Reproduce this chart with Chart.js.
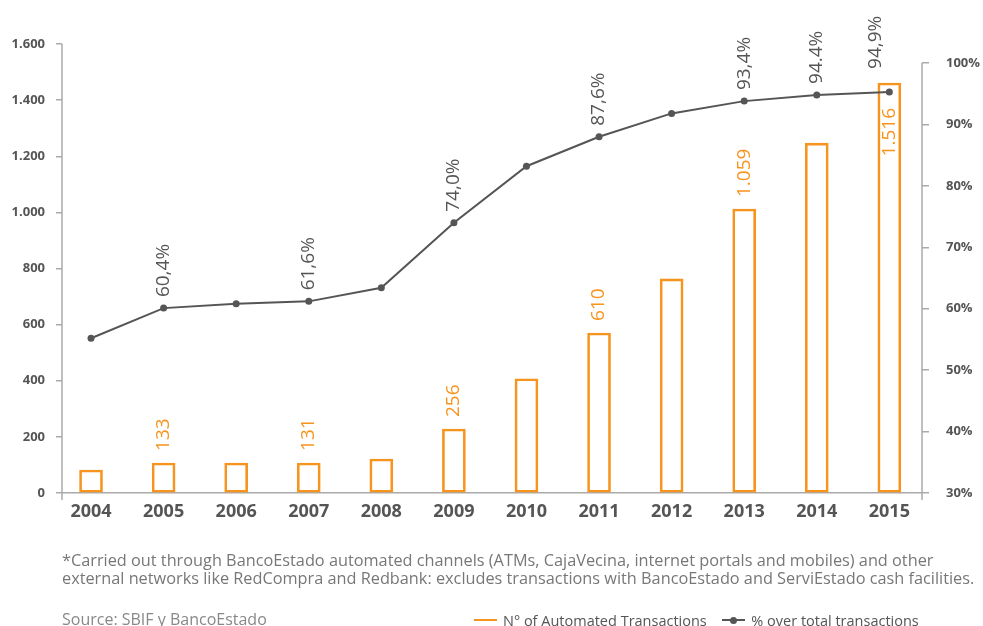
<!DOCTYPE html>
<html>
<head>
<meta charset="utf-8">
<script src="https://cdn.jsdelivr.net/npm/chart.js@4.4.1/dist/chart.umd.min.js"></script>
<style>
  body { margin: 0; background: #fff; font-family: 'Open Sans', sans-serif; }
  #wrap { position: relative; width: 983px; height: 626px; overflow: hidden; }
  #chart { position: absolute; left: 0; top: 0; }
  .note { position: absolute; left: 62px; color: #777; font-size: 16.3px; white-space: nowrap; }
  #foot { top: 551px; line-height: 18px; }
  #source { top: 608px; font-size: 16px; color: #888; }
  #legend { position: absolute; left: 474px; top: 609px; font-size: 14.5px; color: #555; white-space: nowrap; }
  #legend span { display: inline-block; vertical-align: middle; }
  .key { position: relative; width: 23px; height: 2px; margin-right: 6px; }
  .dot { position: absolute; left: 8px; top: -2.5px; width: 7px; height: 7px; border-radius: 50%; background: #555; }
</style>
</head>
<body>
<div id="wrap">
  <canvas id="chart" width="983" height="626"></canvas>
  <div id="foot" class="note">*Carried out through BancoEstado automated channels (ATMs, CajaVecina, internet portals and mobiles) and other<br>external networks like RedCompra and Redbank: excludes transactions with BancoEstado and ServiEstado cash facilities.</div>
  <div id="source" class="note">Source: SBIF y BancoEstado</div>
  <div id="legend">
    <span class="key" style="background:#F7941D"></span><span>N° of Automated Transactions</span>
    <span style="width:8px"></span>
    <span class="key" style="background:#555"><span class="dot"></span></span><span>% over total transactions</span>
  </div>
</div>
<script>
const years = [2004, 2005, 2006, 2007, 2008, 2009, 2010, 2011, 2012, 2013, 2014, 2015];
const transactions = [82, 107, 107, 107, 121, 228, 407, 570, 763, 1012, 1247, 1461];
const shareTotal = [55.2, 60.1, 60.8, 61.2, 63.4, 74.0, 83.2, 88.0, 91.8, 93.8, 94.8, 95.3];
const barLabels = ['', '133', '', '131', '', '256', '', '610', '', '1.059', '', '1.516'];
const lineLabels = ['', '60,4%', '', '61,6%', '', '74,0%', '', '87,6%', '', '93,4%', '94.4%', '94,9%'];
const leftTicks = [0, 200, 400, 600, 800, 1000, 1200, 1400, 1600];
const rightTicks = [30, 40, 50, 60, 70, 80, 90, 100];

const orange = '#F7941D';
const dark = '#555555';
const axisGray = '#aaaaaa';

function withDots(v) {
  return String(v).replace(/\B(?=(\d{3})+(?!\d))/g, '.');
}

// rotated value labels + axis lines that stop at the last tick
const labelPlugin = {
  id: 'valueLabels',
  afterDatasetsDraw(chart) {
    const ctx = chart.ctx;
    const points = chart.getDatasetMeta(0).data;
    const bars = chart.getDatasetMeta(1).data;
    const last = years.length - 1;
    ctx.save();
    ctx.font = '19px "Open Sans"';
    ctx.textBaseline = 'middle';

    bars.forEach((bar, i) => {
      if (!barLabels[i]) return;
      ctx.save();
      ctx.translate(bar.x, bar.y);
      ctx.rotate(-Math.PI / 2);
      ctx.fillStyle = orange;
      if (i === last) {
        ctx.textAlign = 'right';
        ctx.fillText(barLabels[i], -25, 0);
      } else {
        ctx.textAlign = 'left';
        ctx.fillText(barLabels[i], 12, 0);
      }
      ctx.restore();
    });

    points.forEach((pt, i) => {
      if (!lineLabels[i]) return;
      ctx.save();
      ctx.translate(pt.x - (i === last ? 14 : 0), pt.y);
      ctx.rotate(-Math.PI / 2);
      ctx.fillStyle = dark;
      ctx.textAlign = 'left';
      ctx.fillText(lineLabels[i], i === last ? 23 : 11, 0);
      ctx.restore();
    });
    ctx.restore();
  },
  afterDraw(chart) {
    const ctx = chart.ctx;
    const { y, y1 } = chart.scales;
    const bottom = chart.chartArea.bottom + 7;
    ctx.save();
    ctx.strokeStyle = axisGray;
    ctx.lineWidth = 1.5;
    ctx.beginPath();
    ctx.moveTo(y.right, y.getPixelForValue(1600));
    ctx.lineTo(y.right, bottom);
    ctx.moveTo(y1.left, y1.getPixelForValue(100));
    ctx.lineTo(y1.left, bottom);
    ctx.stroke();
    ctx.restore();
  }
};

const ctx = document.getElementById('chart').getContext('2d');

const myChart = new Chart(ctx, {
  type: 'bar',
  data: {
    datasets: [
      {
        type: 'line',
        label: '% over total transactions',
        data: years.map((yr, i) => ({ x: yr, y: shareTotal[i] })),
        yAxisID: 'y1',
        borderColor: dark,
        backgroundColor: dark,
        borderWidth: 2,
        pointRadius: 3.5,
        pointBackgroundColor: dark,
        pointBorderWidth: 0,
        tension: 0,
        order: 1
      },
      {
        type: 'bar',
        label: 'N° of Automated Transactions',
        data: years.map((yr, i) => ({ x: yr, y: transactions[i] })),
        yAxisID: 'y',
        backgroundColor: 'rgba(255,255,255,0)',
        borderColor: orange,
        borderWidth: 2,
        borderSkipped: false,
        barThickness: 23,
        order: 2
      }
    ]
  },
  options: {
    responsive: false,
    animation: false,
    layout: { padding: { top: 44, left: 0, right: 0, bottom: 0 } },
    plugins: {
      legend: { display: false },
      tooltip: { enabled: false }
    },
    scales: {
      x: {
        type: 'linear',
        min: 2003.6,
        max: 2015.45,
        offset: false,
        afterBuildTicks: (scale) => { scale.ticks = years.map(v => ({ value: v })); },
        afterFit: (scale) => { scale.height = 133; },
        grid: { display: true, drawOnChartArea: false, drawTicks: false, offset: false },
        border: { display: true, color: axisGray, width: 1.5 },
        ticks: {
          padding: 8,
          color: dark,
          font: { family: 'Open Sans', size: 18, weight: 'bold' },
          maxRotation: 0,
          callback: (v) => String(v)
        }
      },
      y: {
        position: 'left',
        min: 0,
        max: 1600,
        afterBuildTicks: (scale) => { scale.ticks = leftTicks.map(v => ({ value: v })); },
        afterFit: (scale) => { scale.width = 62; },
        grid: { drawOnChartArea: false, drawTicks: true, tickLength: 6, color: axisGray, lineWidth: 1.5 },
        border: { display: false },
        ticks: {
          padding: 11,
          color: dark,
          font: { family: 'Open Sans', size: 13, weight: 'bold' },
          callback: (v) => withDots(v)
        }
      },
      y1: {
        position: 'right',
        min: 30,
        max: 103.1,
        afterBuildTicks: (scale) => { scale.ticks = rightTicks.map(v => ({ value: v })); },
        afterFit: (scale) => { scale.width = 61; },
        grid: { drawOnChartArea: false, drawTicks: true, tickLength: 7, color: axisGray, lineWidth: 1.5 },
        border: { display: false },
        ticks: {
          padding: 17,
          color: dark,
          font: { family: 'Open Sans', size: 13, weight: 'bold' },
          callback: (v) => v + '%'
        }
      }
    }
  },
  plugins: [labelPlugin]
});
</script>
</body>
</html>
